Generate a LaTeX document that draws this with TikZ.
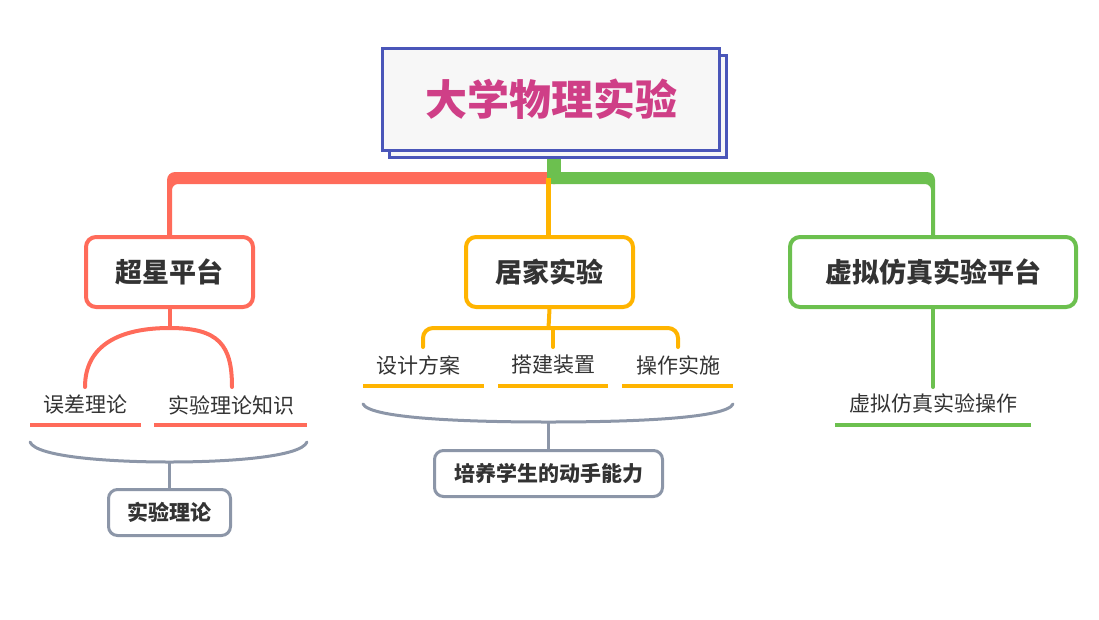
\documentclass[tikz,border=0pt]{standalone}
\usepackage{fontspec}
\setmainfont{Noto Sans CJK SC}
\definecolor{cred}{HTML}{FF6B5A}
\definecolor{cyel}{HTML}{FFB400}
\definecolor{cgrn}{HTML}{6CC04F}
\definecolor{cgray}{HTML}{8C96A8}
\definecolor{cblue}{HTML}{4A56B9}
\definecolor{cmag}{HTML}{CF3F87}
\definecolor{ctext}{HTML}{333333}
\definecolor{cfill}{HTML}{F7F7F7}
\begin{document}
\begin{tikzpicture}[x=1pt,y=-1pt,
  rootbox/.style={draw=cblue, line width=3pt, fill=cfill, minimum width=337pt, minimum height=102pt, inner sep=0pt},
  lonebox/.style={draw, line width=4pt, rounded corners=10pt, fill=white, minimum height=70pt, inner sep=0pt, font=\bfseries\fontsize{27}{27}\selectfont, text=ctext},
  sublabel/.style={inner sep=0pt, font=\fontsize{21}{21}\selectfont, text=ctext},
  sumbox/.style={draw=cgray, line width=3pt, rounded corners=9pt, fill=white, minimum height=46pt, inner sep=0pt, font=\bfseries\fontsize{21}{21}\selectfont, text=ctext},
  uline/.style={line width=4pt},
  branch/.style={line width=4pt, line cap=round},
  brace/.style={draw=cgray, line width=3pt, line cap=round}
]
\useasboundingbox (0,0) rectangle (1099,619);

% main bars
\fill[cred] (555,172) -- (175,172) arc[start angle=270,end angle=180,radius=8] -- (167,237) -- (172,237) -- (172,190) arc[start angle=180,end angle=270,radius=6] -- (555,184) -- cycle;
\fill[cgrn] (553,172) -- (927,172) arc[start angle=270,end angle=360,radius=8] -- (935,237) -- (931,237) -- (931,190) arc[start angle=0,end angle=-90,radius=6] -- (553,184) -- cycle;
\fill[cgrn] (547,155) rectangle (561,184);
\draw[cyel, line width=5pt] (548.5,178) -- (548.5,237);

% root
\node[rootbox] (rootback) at (558,106.5) {};
\node[rootbox, font=\bfseries\fontsize{42}{42}\selectfont, text=cmag] (root) at (551,99.5) {大学物理实验};

% level 1
\node[lonebox, draw=cred, minimum width=167pt] (chaoxing) at (169.5,272) {超星平台};
\node[lonebox, draw=cyel, minimum width=167pt] (jujia) at (549.5,272) {居家实验};
\node[lonebox, draw=cgrn, minimum width=286pt] (xuni) at (933,272) {虚拟仿真实验平台};

% red subtree
\node[sublabel] (wucha) at (85,405) {误差理论};
\node[sublabel] (shiyan) at (231,405) {实验理论知识};
\coordinate (ra) at (169.5,328);
\draw[cred, line width=4pt] (chaoxing.south) -- (ra);
\draw[cred, branch] (85,387) .. controls (85,345) and (120,328) .. (ra) .. controls (219,328) and (232,345) .. (232,387);
\draw[cred, uline] (30,425) -- (141,425);
\draw[cred, uline] (154,425) -- (307,425);
\coordinate (rb) at (169.5,462);
\draw[brace] (30,442) .. controls (36,457) and (110,462) .. (rb) .. controls (229,462) and (301,457) .. (307,442);
\node[sumbox, minimum width=122pt] (lilun) at (169.5,512.5) {实验理论};
\draw[cgray, line width=3pt] (rb) -- (lilun.north);

% yellow subtree
\node[sublabel] (sheji) at (418.5,365) {设计方案};
\node[sublabel] (dajian) at (553,365) {搭建装置};
\node[sublabel] (caozuo) at (678,365) {操作实施};
\coordinate (ya) at (548.5,328);
\draw[cyel, line width=4pt] (jujia.south) -- (ya);
\draw[cyel, branch, rounded corners=10pt] (423,347) -- (423,328) -- (678,328) -- (678,347);
\draw[cyel, branch] (553,328) -- (553,347);
\draw[cyel, uline] (363,386) -- (484,386);
\draw[cyel, uline] (498,386) -- (608,386);
\draw[cyel, uline] (622,386) -- (733,386);
\coordinate (yb) at (548.5,422);
\draw[brace] (363,404) .. controls (370,418) and (460,422) .. (yb) .. controls (637,422) and (727,418) .. (733,404);
\node[sumbox, minimum width=228pt] (peiyang) at (548.5,473.5) {培养学生的动手能力};
\draw[cgray, line width=3pt] (yb) -- (peiyang.north);

% green subtree
\node[sublabel] (xunicz) at (933,403) {虚拟仿真实验操作};
\coordinate (ga) at (933,387);
\draw[cgrn, branch] (xuni.south) -- (ga);
\draw[cgrn, uline] (835,425) -- (1031,425);
\end{tikzpicture}
\end{document}
